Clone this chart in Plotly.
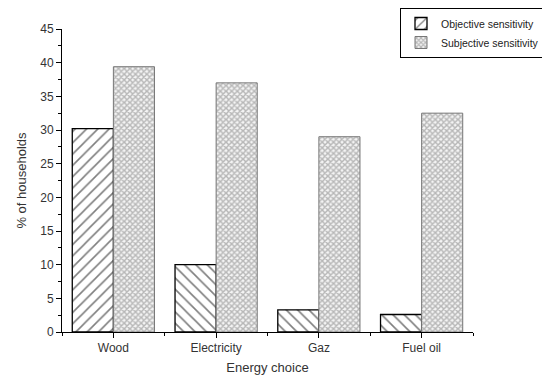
import plotly.graph_objects as go

categories = ["Wood", "Electricity", "Gaz", "Fuel oil"]
objective = [30.2, 10.0, 3.3, 2.6]
subjective = [39.4, 37.0, 29.0, 32.5]
y_ticks = [0, 5, 10, 15, 20, 25, 30, 35, 40, 45]

fig = go.Figure()
fig.add_trace(go.Bar(
    x=categories, y=objective, name="Objective sensitivity",
    marker=dict(color="white", line=dict(color="black", width=1.3),
                pattern=dict(shape=["/", "\\", "\\", "\\"], fgcolor="black",
                             bgcolor="white", size=8, solidity=0.2)),
))
fig.add_trace(go.Bar(
    x=categories, y=subjective, name="Subjective sensitivity",
    marker=dict(color="#bbbbbb", line=dict(color="#777777", width=1),
                pattern=dict(shape="x", fgcolor="#7a7a7a", bgcolor="#f4f4f4",
                             size=4, solidity=0.6)),
))

# page body has an 8px margin, so the figure is drawn 8px right/down
fig.update_layout(
    width=542, height=375,
    margin=dict(l=54, r=77, t=21, b=51, autoexpand=False),
    paper_bgcolor="white", plot_bgcolor="white",
    barmode="group", bargap=0.2, bargroupgap=0,
    font=dict(family="Liberation Sans, Arial, sans-serif", size=12, color="#333"),
    showlegend=True,
    legend=dict(xref="container", yref="container", x=392/542, y=1.0,
                xanchor="left", yanchor="top",
                bordercolor="black", borderwidth=1, bgcolor="white",
                font=dict(size=10.5, color="#222"), tracegroupgap=0,
                itemwidth=30),
    xaxis=dict(
        range=[-0.5, 3.5], showline=True, linecolor="black", linewidth=1,
        ticks="outside", ticklen=5, tickcolor="black", showgrid=False, automargin=False,
        title=dict(text="Energy choice", font=dict(size=13, color="#333"), standoff=8),
        minor=dict(ticks="outside", ticklen=3, tickcolor="black", tickvals=[-0.5, 0.5, 1.5, 2.5, 3.5]),
    ),
    yaxis=dict(
        range=[0, 45], tickvals=y_ticks, showline=True, linecolor="black", linewidth=1,
        ticks="outside", ticklen=5, tickcolor="black", showgrid=False, zeroline=False,
        automargin=False,
        title=dict(text="% of households", font=dict(size=13, color="#333"), standoff=10),
        minor=dict(ticks="outside", ticklen=3, tickcolor="black", dtick=2.5),
    ),
)

fig.write_html("out.html")
